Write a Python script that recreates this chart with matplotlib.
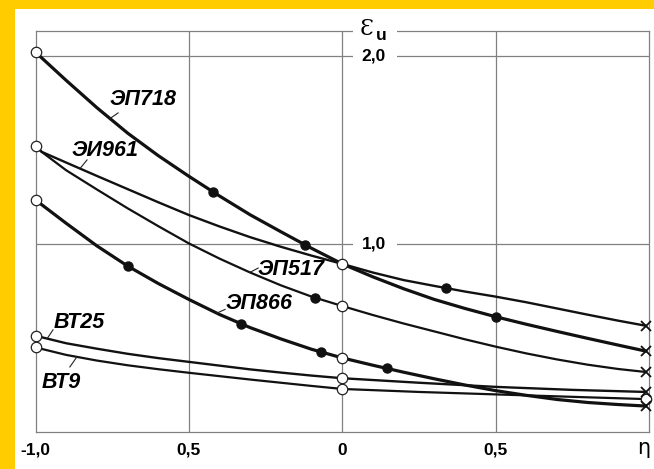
import numpy as np
import matplotlib.pyplot as plt
from matplotlib.patches import Rectangle

# ---- значения: eps_u(eta) ----
ep718_x = [-1.0, -0.9, -0.8, -0.7, -0.6, -0.5, -0.4, -0.3, -0.2, -0.1, 0.0,
           0.1, 0.2, 0.3, 0.4, 0.5, 0.6, 0.7, 0.8, 0.9, 0.99]
ep718_y = [2.02, 1.87, 1.725, 1.59, 1.47, 1.36, 1.255, 1.155, 1.065, 0.977, 0.894,
           0.825, 0.762, 0.705, 0.657, 0.613, 0.573, 0.535, 0.498, 0.462, 0.43]

ei961_x = [-1.0, -0.98, -0.9, -0.8, -0.7, -0.6, -0.5, -0.4, -0.3, -0.2, -0.1, 0.0,
           0.1, 0.2, 0.3, 0.4, 0.5, 0.6, 0.7, 0.8, 0.9, 0.99]
ei961_y = [1.523, 1.49, 1.433, 1.362, 1.292, 1.222, 1.154, 1.093, 1.036, 0.985, 0.938, 0.894,
           0.848, 0.808, 0.777, 0.747, 0.72, 0.69, 0.657, 0.624, 0.592, 0.565]

ep517_x = [-1.0, -0.98, -0.9, -0.8, -0.7, -0.6, -0.5, -0.4, -0.3, -0.2, -0.1, 0.0,
           0.1, 0.2, 0.3, 0.4, 0.5, 0.6, 0.7, 0.8, 0.9, 0.99]
ep517_y = [1.523, 1.49, 1.392, 1.29, 1.19, 1.095, 1.003, 0.922, 0.848, 0.78, 0.72, 0.67,
           0.622, 0.577, 0.535, 0.493, 0.454, 0.418, 0.386, 0.358, 0.335, 0.319]

ep866_x = [-1.0, -0.9, -0.8, -0.7, -0.6, -0.5, -0.4, -0.3, -0.2, -0.1, 0.0,
           0.1, 0.2, 0.3, 0.4, 0.5, 0.6, 0.7, 0.8, 0.9, 0.99]
ep866_y = [1.234, 1.11, 0.99, 0.883, 0.79, 0.705, 0.625, 0.555, 0.495, 0.44, 0.394,
           0.355, 0.318, 0.283, 0.25, 0.22, 0.195, 0.173, 0.157, 0.146, 0.138]

bt25_x = [-1.0, -0.9, -0.8, -0.7, -0.6, -0.5, -0.4, -0.3, -0.2, -0.1, 0.0,
          0.25, 0.5, 0.75, 0.99]
bt25_y = [0.512, 0.472, 0.443, 0.416, 0.393, 0.373, 0.353, 0.333, 0.316, 0.30, 0.286,
          0.262, 0.24, 0.224, 0.213]

bt9_x = [-1.0, -0.9, -0.8, -0.7, -0.6, -0.5, -0.4, -0.3, -0.2, -0.1, 0.0,
         0.25, 0.5, 0.75, 0.99]
bt9_y = [0.45, 0.41, 0.38, 0.355, 0.334, 0.315, 0.297, 0.279, 0.262, 0.245, 0.229,
         0.213, 0.2, 0.187, 0.175]

# залитые точки
dot_x = [-0.421, -0.12, 0.5, 0.337, -0.089, -0.70, -0.33, -0.07, 0.147]
dot_y = [1.277, 0.995, 0.613, 0.766, 0.714, 0.883, 0.576, 0.426, 0.338]
# светлые кружки
circ_x = [-1.0, -1.0, -1.0, -1.0, -1.0, 0.0, 0.0, 0.0, 0.0, 0.0, 0.99]
circ_y = [2.02, 1.523, 1.234, 0.512, 0.45, 0.894, 0.670, 0.394, 0.286, 0.229, 0.175]
# крестики на правом краю
cross_x = [0.99, 0.99, 0.99, 0.99, 0.99]
cross_y = [0.565, 0.43, 0.319, 0.213, 0.138]

names = ['ЭП718', 'ЭИ961', 'ЭП517', 'ЭП866', 'ВТ25', 'ВТ9']
label_x = [-0.650, -0.774, -0.167, -0.272, -0.858, -0.917]
label_y = [1.766, 1.495, 0.862, 0.685, 0.580, 0.261]
# выноски: начало у подписи, конец на кривой
lead_x0 = [-0.731, -0.832, -0.274, -0.382, -0.943, -0.888]
lead_y0 = [1.697, 1.447, 0.872, 0.652, 0.543, 0.346]
lead_x1 = [-0.757, -0.855, -0.301, -0.409, -0.962, -0.865]

xtick_pos = [-1.0, -0.5, 0.0, 0.5]
xtick_lab = ['-1,0', '0,5', '0', '0,5']
grid_x = [-0.5, 0.0, 0.5]
grid_y = [1.0, 2.0]

curves = [(ep718_x, ep718_y, 2.3), (ei961_x, ei961_y, 1.7), (ep517_x, ep517_y, 1.6),
          (ep866_x, ep866_y, 2.3), (bt25_x, bt25_y, 1.7), (bt9_x, bt9_y, 1.6)]

fig = plt.figure(figsize=(6.54, 4.69), dpi=100)
# жёлтая рамка сверху и слева
fig.patches.append(Rectangle((0, 1 - 9 / 469), 1, 9 / 469, transform=fig.transFigure,
                             fc='#FFCC00', ec='none'))
fig.patches.append(Rectangle((0, 0), 15 / 654, 1, transform=fig.transFigure,
                             fc='#FFCC00', ec='none'))

ax = fig.add_axes([35.5 / 654, 1 - 432 / 469, (649 - 35.5) / 654, (432 - 31.5) / 469])
ax.set_xlim(-1, 1)
ax.set_ylim(0, 2.13)
ax.set_xticks([])
ax.set_yticks([])
gcol = '#808080'
for s in ax.spines.values():
    s.set_color(gcol)
    s.set_linewidth(0.9)
for gx in grid_x:
    ax.axvline(gx, color=gcol, lw=0.9, zorder=1)
for gy in grid_y:
    ax.axhline(gy, color=gcol, lw=0.9, zorder=1)

# разрывы линий под подписями оси
for gy in [2.13, 2.0, 1.0]:
    ax.add_patch(Rectangle((0.035, gy - 0.045), 0.143, 0.09, fc='white', ec='none',
                           zorder=3, clip_on=False))

ax.text(0.0798, 2.141, 'Ɛ', fontsize=16, family='DejaVu Serif', ha='center', va='center', zorder=6)
ax.text(0.127, 2.108, 'u', fontsize=12.5, family='Liberation Sans', weight='bold',
        ha='center', va='center', zorder=6)
for gy, t in zip(grid_y, ['1,0', '2,0']):
    ax.text(0.102, gy, t, fontsize=12.5, family='Liberation Sans', weight='bold',
            ha='center', va='center', zorder=6)

for xp, t in zip(xtick_pos, xtick_lab):
    ax.text(xp, -0.122, t, fontsize=12.5, family='Liberation Sans', weight='bold',
            ha='center', va='baseline', clip_on=False)
ax.text(0.984, -0.116, 'η', fontsize=15, family='DejaVu Sans', ha='center', va='baseline',
        clip_on=False)

for cx, cy, lw in curves:
    ax.plot(cx, cy, color='#111111', lw=lw, solid_capstyle='round', solid_joinstyle='round',
            zorder=4, clip_on=False)

ax.plot(dot_x, dot_y, 'o', ms=6.5, mfc='#111111', mec='#111111', zorder=5)
ax.plot(circ_x, circ_y, 'o', ms=7.5, mfc='white', mec='#222222', mew=0.9, zorder=5, clip_on=False)
ax.plot(cross_x, cross_y, 'x', ms=7, mec='#111111', mew=1.3, zorder=5, clip_on=False)

for i, name in enumerate(names):
    ax.text(label_x[i], label_y[i], name, fontsize=15.5, family='Liberation Sans',
            weight='bold', style='italic', ha='center', va='center', zorder=6)
    cx, cy, _ = curves[i]
    y1 = np.interp(lead_x1[i], cx, cy)
    ax.plot([lead_x0[i], lead_x1[i]], [lead_y0[i], y1], color='#222222', lw=0.8, zorder=4)

fig.savefig('out.png', dpi=100)
